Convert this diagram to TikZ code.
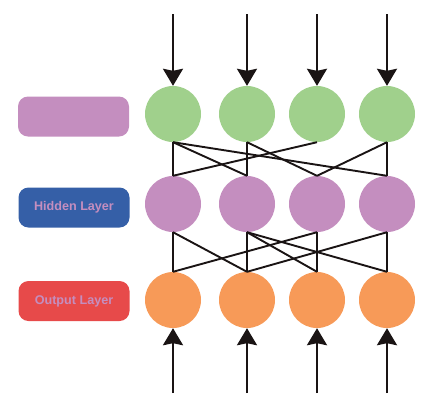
\documentclass[tikz,border=0pt]{standalone}
\usepackage{fontspec}
\setmainfont{Liberation Sans}
\usetikzlibrary{arrows.meta}
\definecolor{ngreen}{HTML}{A0D08C}
\definecolor{npurple}{HTML}{C48EBF}
\definecolor{norange}{HTML}{F79A58}
\definecolor{lblue}{HTML}{355FA7}
\definecolor{lred}{HTML}{E74A4A}
\definecolor{ink}{HTML}{1A1414}
\tikzset{
  neuron/.style={circle, minimum size=56pt, inner sep=0pt, fill=#1},
  labelbox/.style={rounded corners=10pt, minimum width=111pt, minimum height=40pt, inner sep=0pt, fill=#1, text=npurple, font=\bfseries\fontsize{12.6}{14}\selectfont},
  link/.style={draw=ink, line width=1.9pt},
  feed/.style={draw=ink, line width=2.3pt, -{Stealth[width=20pt,length=17pt,inset=2pt]}}
}
\begin{document}
\begin{tikzpicture}[x=1pt,y=-1pt]
\useasboundingbox (0,0) rectangle (433,400);
% label boxes
\node[labelbox=npurple] (lin) at (73.5,116.5) {};
\node[labelbox=lblue] (lhid) at (74,207.5) {Hidden Layer};
\node[labelbox=lred] (lout) at (74,301) {Output Layer};
% neurons
\foreach \i/\x in {1/173,2/247,3/317,4/387}{
  \node[neuron=ngreen] (g\i) at (\x,114) {};
  \node[neuron=npurple] (p\i) at (\x,204) {};
  \node[neuron=norange] (o\i) at (\x,300) {};
  \coordinate (t\i) at (\x,14);
  \coordinate (b\i) at (\x,393);
}
% input arrows
\foreach \i in {1,...,4}{
  \draw[feed] (t\i) -- (g\i.north);
  \draw[feed] (b\i) -- (o\i.south);
}
% green -> purple links
\foreach \a/\b in {1/1,1/2,1/4,2/2,2/3,3/1,4/3,4/4}{
  \draw[link] (g\a.south) -- (p\b.north);
}
% purple -> orange links
\foreach \a/\b in {1/1,1/2,2/2,2/3,2/4,3/1,3/3,4/2,4/4}{
  \draw[link] (p\a.south) -- (o\b.north);
}
\end{tikzpicture}
\end{document}
